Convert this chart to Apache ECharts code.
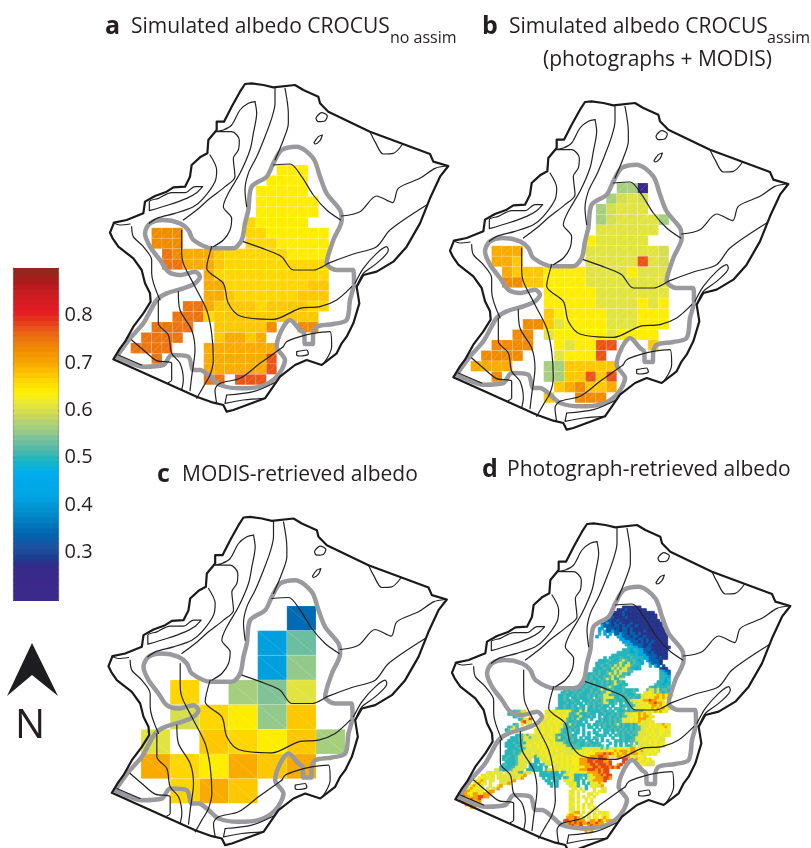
<!DOCTYPE html>
<html><head><meta charset="utf-8">
<style>html,body{margin:0;padding:0;background:#fff}#c{width:811px;height:848px}</style>
<script src="https://cdn.jsdelivr.net/npm/echarts@6/dist/echarts.min.js"></script>
</head><body><div id="c"></div>
<script>
// ---------- colour scale ----------
const colorStops = [[.2,'#3c2a8a'],[.27,'#38298a'],[.29,'#1b3c8e'],[.31,'#21509f'],[.34,'#0064ae'],[.38,'#0088c9'],[.42,'#00a4e2'],[.47,'#00aeef'],[.495,'#14b5c4'],[.51,'#3fb7b0'],[.53,'#66bca4'],[.56,'#9ccb88'],[.59,'#c9d85c'],[.62,'#ecea30'],[.64,'#fff000'],[.67,'#ffd000'],[.70,'#f8a800'],[.73,'#f18c00'],[.76,'#ec6d14'],[.79,'#e63a1c'],[.81,'#e31b23'],[.85,'#c81d20'],[.87,'#b0181c'],[.9,'#8e2a1b']];
const colorbarTicks = [0.3,0.4,0.5,0.6,0.7,0.8];
// ---------- cell letters -> albedo ----------
const letterValues = {K:.24,t:.35,u:.41,v:.53,x:.54,w:.555,n:.57,m:.595,l:.61,Y:.64,G:.66,A:.672,B:.70,C:.735,D:.755,E:.77,
  '1':.28,'2':.34,'3':.43,'4':.497,'5':.52,'6':.605,'7':.628,'8':.71,'9':.79};
// ---------- panel a ----------
const cellsA = [
"..............YYY..",".............YYYY..","............YYYYY..","............YYYYYY.","............YYYYYY.",
"...........GYYYYY..","..CCC......GGYYYYYY","..CCC......GGGYYYYY","...DCBBBAGGGGGGYYYY","...DDBBBAGGGGGGGGGG",
".......BGGGGGGGGGGG",".......BBGGGGGGGGAA",".......BBAGGGGGGAAA",".....DDBAAAAGAAAAGG","....DDDGAAAAAAAAAA.",
"..DDDD..AAAAAC..CC.",".DDDD...ABBAB......","DDDD...BBBBBBB.....","..D....BBBBBBE.....",".......BBBBBBE.....",".......DD.EEE......"];
// ---------- panel b ----------
const cellsB = [
"..............nnK..",".............nmlm..","............nmlll..","............nmlllln","............llllll.",
"...........Ylllll..","..BBB......lllllllm","..BBA......lllllElm","...BAAAYYYYllllYlll","...CCAAYYYYllllllll",
".......YYYYYlllllll",".......YYYYYllllYlY",".......AYYYYYlllYYY",".....CCAlYYYYlllYYY","....CC.lYYYYYlYYYY.",
"..CCCC..YlYYEE...A.",".CCCC...lYYYE......","BBBB...nnAAAAA.....","..C....nnAAEAE.....","........ABCAAB.....",".......A..CCC......"];
// ---------- panel c ----------
const cellsC = [
".....t.","....uv.","....uw.",".G.nxl.",".mGYwA.","l.AGYAn","BGYBAB.",".GBA..."];
// ---------- panel d: "startColumn:letters" runs per row ----------
const rasterD = [
"62:1111111","60:11121111111","58:1111211111111111","57:211112111111111111","56:2121111211111111111","55:212112111111111111111",
"54:22321212111211111111111","54:32221221212112111111111","53:33.2221212212111111111111","53:3.32232212212111121111111",
"53:4.3.3.22322122121111111111","52:3...3...3322212211211111111","61:332222122121111111","62:33322212121211111",
"63:4332222112111111","64:4433221221111111","62:44434433222111111","60:4444433433221211111","58:444444544433322221111",
"55:4.4444544454444332221211","53:44445444565445434.322221","52:444454445654645443..32221","52:44544546564665444...4.32.2",
"51:544454465656654434 76:211","51:445445456566655 76:4322","49:4454544565656454 76:4432","48:445454454564645 76:4443",
"48:54544545656446 76:4434","48:454544545456454 75:44434","47:44545445454565444 74:544344","44:4444544545445654445 72:54454445",
"40:4445444544544565445444544454 71:566564554","39:4454454544454545566454454445. 70:6676565454",
"38:4454454544454545566454454544454666767878766","38:4454.44544454.4556676445445454466767887876",
"38:44544544.4445454565445445456667688988766","38:444544544.454545566445.4.445666767889887",
"38:4454454.44.54544544.4..4454456667678878766","37:54454454454.4454544.4.4545.4566676778787876",
"21:45566 33:66766766765446464444454454.4445454555666787876","19:4456 24:66 33:6676766675456444544.44544545456667787876",
"21:4566 27:6 32:67667676764544644454.4.4454454556667878876","23:45669 32:76676766754546445.4..45445454566676788876",
"24:8966 32:667676767544544.4...4454454545666767876676",
"21:45 24:6.66 31:766766766546 43:45444.4. 51:4454545456454454 67:5666676766876",
"19:4565 30:66766767665445 44:44.4.44.4 53:.45445454544545 68:566676767687",
"18:456 29:7667667676544 42:5454.4... 51:4.4.44545454545 66:45566767667767",
"29:76676676765445 44:44.4.4.44 53:..44.4.54545454 67:5666767667766",
"22:4456 26:566 29:667667665445 41:4544..4.4.. 52:4454.4.4545445 66:45666676767667",
"20:44455 25:66566 30:66766765644 41:5454.4.44. 51:45.4...4..4544 65:4566676676766",
"19:444454 25:666666767667544 40:54454454. 49:44.4.4.4..45454 64:45566676767666",
"18:44454454666766767676 38:66545445445544 52:45...4.4.4.4.5 67:56666767667",
"18:44445456676676767676 38:6665455544545454 54:5.4..4.4.5456 68:6676667676",
"19:4444545666676766767 38:676665555666666 53:6565666776778 66:8766676676",
"18:44454456666667676767 38:6676666676767676 54:766778788878 66:8778767676",
"18:44454566667667676766 38:6766667676777788 54:898987878878 66:887667676",
"17:445445667666466767667 38:676767677777888 53:99887678878 64:8766776",
"17:45444566676.4466676767 38:6767677788899 51:98999 62:99 66:7877676",
"18:4444566666.44.6667 36:67676767778889 50:98999889 62:9 67:7766766",
"17:454445666.444.4566 35:676676767778888 50:99899989 60:89 69:77666",
"16:4544456666.44444.4 36:66676766767788 50:89989998989",
"14:66544456666.444444 33:5666676676777 46:8889 50:9989899",
"11:667666.6666654666 31:4445444.4 40:5667667 47:6788 51:889899",
"9:66766.66666666668 31:44444544 39:56676 44:44454 49:678889 55:899",
"8:776676.6666666678 32:4.44454 39:.4567 44:445.4 49:66788 54:8998",
"7:7786.66..666668 33:44.44. 40:6676 44:44.4 49:66888 54:89",
"6:77876.6...6668 34:44.4 41:6667 45:4.4.4 50:76786",
"5:78776..6..68 35:4.4 42:667 45:4..4.6 51:7668",
"4:787766.6.668 43:76.6.4..6..66","3:8877667.688 42:66.7.6...6.766",
"2:88778876888 42:76.6...66.7","2:9887889988 42:67.6.6.7.6","1:98879889 42:66.7..6.7","2:9889888 42:76.6..7.6",
"3:88988 42:67.7.6.67","5:88 42:76.7.6.7.6","42:66.7.7..6.7","42:7688.6.7.6.6767","41:7887.6..7.67.767","41:88898.7.6.77.787",
"40:99889888.788798788","40:889898988988988","43:9889 49:8988 54:8","46:89898","48:878"];
// ---------- map linework ----------
const outline = [[40,868],[60,835],[75,815],[100,770],[130,730],[152,695],[150,670],[135,640],[125,600],[100,565],[55,530],[38,505],[30,488],[42,458],[80,450],[130,430],[135,395],[165,378],[200,365],[220,352],[255,350],[270,320],[275,285],[300,262],[322,250],[325,210],[350,180],[350,155],[372,155],[395,110],[420,65],[435,42],[455,40],[490,45],[520,52],[585,45],[610,60],[655,80],[660,100],[685,125],[810,185],[990,252],[1000,275],[1045,288],[1020,320],[990,385],[960,460],[920,530],[880,575],[830,605],[790,615],[770,650],[778,700],[760,760],[740,800],[725,820],[710,850],[665,885],[620,870],[585,885],[540,920],[495,985],[400,1020],[380,1025],[370,1005],[340,998],[290,980],[40,868]];
const glacier = [[50,860],[90,805],[130,760],[170,690],[200,670],[250,655],[285,640],[300,620],[285,605],[240,615],[205,605],[180,570],[150,530],[135,490],[150,460],[190,450],[240,460],[265,480],[280,510],[340,535],[400,535],[425,510],[435,460],[445,420],[455,350],[500,320],[520,280],[545,240],[590,230],[640,265],[660,320],[680,370],[720,420],[725,450],[700,510],[680,580],[710,600],[760,600],[762,640],[750,690],[740,750],[700,762],[650,770],[640,790],[638,822],[615,822],[612,790],[600,780],[570,750],[545,780],[530,830],[555,870],[530,920],[480,950],[420,955],[360,945],[330,920],[300,900],[280,900],[265,860],[215,855],[190,885],[130,890],[70,870],[50,860]];
const contours = [
[[148,422],[148,395],[175,385],[215,368],[255,368],[285,350],[308,350],[290,368],[260,385],[205,405],[148,422]],
[[330,255],[350,300],[345,335],[310,385],[280,410],[225,430],[170,445],[148,460]],
[[465,95],[445,100],[420,120],[395,165],[370,180],[345,185],[395,185],[418,210],[415,240],[400,265],[405,320],[375,350],[330,385],[290,420],[250,450]],
[[465,95],[470,130],[460,190],[450,240],[420,310],[385,370],[370,410],[395,445],[390,480],[370,510],[340,530]],
[[525,55],[525,100],[515,145],[495,200],[470,260],[445,310],[435,360],[440,410]],
[[555,55],[565,130],[565,160],[550,210],[525,270]],
[[520,285],[570,282],[605,320],[640,375],[680,420],[722,450]],
[[725,438],[780,425],[830,378],[878,398],[895,355],[960,325],[1005,295],[1040,288]],
[[430,515],[500,540],[545,560],[580,600],[640,600],[690,578],[760,552],[830,530],[870,480],[980,405]],
[[335,530],[320,595],[370,640],[385,700],[420,738],[520,748],[600,715],[660,710],[710,690],[755,650]],
[[765,640],[790,595],[830,550],[860,530],[865,540],[830,580],[790,610],[770,650]],
[[810,185],[825,215],[850,252],[880,250],[908,222]],
[[245,480],[245,540],[250,580],[285,650],[320,720],[335,790],[340,870],[330,915],[310,950],[290,985]],
[[235,665],[240,720],[275,780],[285,840],[275,920],[270,962]],
[[175,690],[175,760],[205,795],[215,850],[240,880],[250,930],[245,960]],
[[95,470],[100,500],[130,530],[155,570],[155,610],[180,690]],
[[40,458],[60,465],[90,462]],
[[95,810],[130,840],[170,872],[215,880],[215,930],[205,938]],
[[550,830],[480,880],[420,925],[360,940],[345,960],[350,1000]],
[[550,830],[560,815],[600,800],[640,790],[690,785],[695,830],[670,882]],
[[380,975],[460,965],[530,935]],
[[380,975],[375,1000],[430,990],[495,985]],
[[55,855],[125,885]],
[[650,140],[665,128],[682,138],[675,152],[655,155],[648,145],[650,140]],
[[642,218],[655,200],[667,195],[660,212],[645,222],[642,218]],
[[590,845],[620,840],[625,852],[600,858],[590,855],[590,845]]];

// ---------- helpers ----------
const STEPS = 64;
function hex(c){return [1,3,5].map(i=>parseInt(c.substr(i,2),16));}
function albedoColor(v){
  const q = .2 + (Math.min(STEPS-1,Math.max(0,Math.floor((v-.2)/.7*STEPS)))+.5)*.7/STEPS;
  for(let i=1;i<colorStops.length;i++){
    if(q<=colorStops[i][0]){
      const a=colorStops[i-1],b=colorStops[i],t=(q-a[0])/(b[0]-a[0]),A=hex(a[1]),B=hex(b[1]);
      return 'rgb('+A.map((x,k)=>Math.round(x+(B[k]-x)*t)).join(',')+')';
    }
  }
  return colorStops[colorStops.length-1][1];
}
function rowsToCells(rows,x0,y0,dx,dy){
  const out=[];
  rows.forEach((r,j)=>{[...r].forEach((ch,i)=>{ if(ch!=='.') out.push([x0+i*dx,y0+j*dy,letterValues[ch]]); });});
  return out;
}
function runsToCells(rows,x0,y0,d){
  const out=[];
  rows.forEach((r,j)=>{ r.split(' ').forEach(seg=>{ const p=seg.split(':'),s=+p[0];
    [...p[1]].forEach((ch,i)=>{ if(ch!=='.') out.push([x0+(s+i)*d,y0+j*d,letterValues[ch]]); }); }); });
  return out;
}
function cellSeries(idx,data,dx,dy,diag){
  return {type:'custom',xAxisIndex:idx,yAxisIndex:idx,data,clip:false,z:1,silent:true,
    renderItem(p,api){
      const a=api.coord([api.value(0),api.value(1)]),s=api.size([dx,dy]),w=s[0],h=s[1];
      const fill=albedoColor(api.value(2));
      const kids=[{type:'rect',shape:{x:a[0],y:a[1],width:w,height:h},
        style:diag?{fill,stroke:'rgba(255,255,255,.3)',lineWidth:.5}:{fill,stroke:fill,lineWidth:.8}}];
      if(diag==='up')kids.push({type:'line',shape:{x1:a[0],y1:a[1]+h,x2:a[0]+w,y2:a[1]},style:{stroke:'rgba(255,255,255,.3)',lineWidth:.5}});
      if(diag==='down')kids.push({type:'line',shape:{x1:a[0],y1:a[1],x2:a[0]+w,y2:a[1]+h},style:{stroke:'rgba(255,255,255,.3)',lineWidth:.5}});
      return {type:'group',children:kids};
    }};
}
function pathSeries(idx,pts,color,width,z,smooth){
  return {type:'line',xAxisIndex:idx,yAxisIndex:idx,data:pts,showSymbol:false,silent:true,clip:false,z,smooth,
    lineStyle:{color,width,join:'round',cap:'round'},animation:false};
}
// ---------- panels ----------
const panelOrigins = [[100,80],[440,98],[98.5,513.5],[442,520]];
const panelCells = [
  cellSeries(0,rowsToCells(cellsA,92,285,31.3,31.4),31.3,31.4,'up'),
  cellSeries(1,rowsToCells(cellsB,92,285,31.3,31.4),31.3,31.4,'up'),
  cellSeries(2,rowsToCells(cellsC,127.5,307.5,87.5,74),87.5,74,'down'),
  cellSeries(3,runsToCells(rasterD,45,288,8),8,8,null)];
const grids=[],xA=[],yA=[],series=[];
panelOrigins.forEach((o,i)=>{
  grids.push({left:o[0],top:o[1],width:350,height:980/3,show:false});
  xA.push({type:'value',gridIndex:i,min:0,max:1050,show:false});
  yA.push({type:'value',gridIndex:i,min:30,max:1010,inverse:true,show:false});
  series.push(panelCells[i]);
  series.push(pathSeries(i,glacier,'#9a9a9e',4.5,3,.3));
  contours.forEach(c=>series.push(pathSeries(i,c,'#222',1.2,4,.3)));
  series.push(pathSeries(i,outline,'#1a1a1a',2.2,5,false));
});
// ---------- colour bar ----------
const barIndex=4;
grids.push({left:13.5,top:268,width:45,height:332,show:false});
xA.push({type:'value',gridIndex:barIndex,min:0,max:1,position:'bottom',axisLine:{show:true,onZero:false,lineStyle:{color:'#8a8a8a',width:1.2}},axisTick:{show:false},axisLabel:{show:false},splitLine:{show:false}});
xA.push({type:'value',gridIndex:barIndex,min:0,max:1,position:'top',axisLine:{show:true,onZero:false,lineStyle:{color:'#8a8a8a',width:1.2}},axisTick:{show:false},axisLabel:{show:false},splitLine:{show:false}});
const yTick={show:true,inside:true,length:2.5,lineStyle:{color:'#222',width:1}};
yA.push({type:'value',gridIndex:barIndex,min:.2,max:.9,interval:.1,position:'right',
  axisLine:{show:true,onZero:false,lineStyle:{color:'#8a8a8a',width:1.2}},axisTick:yTick,splitLine:{show:false},
  axisLabel:{margin:6,color:'#231f20',fontSize:20,fontFamily:'"Open Sans"',
    formatter:v=>colorbarTicks.some(t=>Math.abs(t-v)<1e-6)?v.toFixed(1):''}});
yA.push({type:'value',gridIndex:barIndex,min:.2,max:.9,interval:.1,position:'left',
  axisLine:{show:true,onZero:false,lineStyle:{color:'#8a8a8a',width:1.2}},axisTick:yTick,splitLine:{show:false},axisLabel:{show:false}});
const barLevels=[];for(let i=0;i<STEPS;i++)barLevels.push([.2+i*.7/STEPS]);
series.push({type:'custom',xAxisIndex:4,yAxisIndex:4,data:barLevels,silent:true,z:1,
  renderItem(p,api){
    const v=api.value(0),a=api.coord([0,v+.7/STEPS]),b=api.coord([1,v]);
    return {type:'rect',shape:{x:a[0],y:a[1],width:b[0]-a[0],height:b[1]-a[1]+1},style:{fill:albedoColor(v+.001)}};
  }});
// ---------- text ----------
const FONT='"Open Sans"';
const labels=[
 ['a',105,27,true,25],['Simulated albedo CROCUS',131,27,false,21],['no assim',390,38,false,16],
 ['b',482,27,true,25],['Simulated albedo CROCUS',509,27,false,21],['assim',767,38,false,16],
 ['(photographs + MODIS)',543,60,false,21],
 ['c',157,475,true,25],['MODIS-retrieved albedo',182,475,false,21],
 ['d',482,470,true,25],['Photograph-retrieved albedo',507,470,false,21],
 ['N',15,727,false,40]];
const graphic=labels.map(l=>({type:'text',left:l[1],top:l[2]-l[4]*.5,z:20,
  style:{text:l[0],fontFamily:FONT,fontSize:l[4],fontWeight:l[3]?'bold':'normal',fill:'#231f20'}}));
graphic.push({type:'polygon',z:20,shape:{points:[[32,643],[58,696],[32,675],[7,696]]},style:{fill:'#1d1d1f'}});
echarts.init(document.getElementById('c'),null,{renderer:'canvas'}).setOption({
  animation:false,backgroundColor:'#fff',grid:grids,xAxis:xA,yAxis:yA,series,graphic});
</script></body></html>
